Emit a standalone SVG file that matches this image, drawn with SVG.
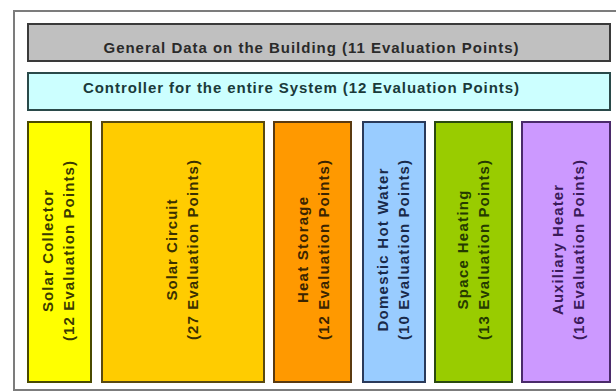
<svg xmlns="http://www.w3.org/2000/svg" width="616" height="392" viewBox="0 0 616 392">
  <style>
    .bar { stroke-width: 2; }
    .box { stroke-width: 2; }
    .lbl { font-family: "Liberation Sans", Arial, sans-serif; font-weight: bold; font-size: 15px; text-anchor: middle; }
  </style>
  <rect x="0" y="0" width="616" height="392" fill="#ffffff"/>
  <!-- outer frame, open to the right edge -->
  <rect x="14" y="11" width="620" height="379" fill="none" stroke="#7c7c7c" stroke-width="2"/>

  <g id="general-data">
    <rect class="bar" x="28" y="24" width="582" height="37" fill="#c0c0c0" stroke="#3a3a3a"/>
    <text class="lbl" x="311" y="53" fill="#2a2a2a" textLength="415" lengthAdjust="spacing">General Data on the Building (11 Evaluation Points)</text>
  </g>

  <g id="controller">
    <rect class="bar" x="28" y="73" width="582" height="37" fill="#ccffff" stroke="#2a4a4a"/>
    <text class="lbl" x="301" y="93" fill="#1a3a3a" textLength="436" lengthAdjust="spacing">Controller for the entire System (12 Evaluation Points)</text>
  </g>

  <g id="solar-collector">
    <rect class="box" x="28" y="122" width="63" height="260" fill="#ffff00" stroke="#4a4a00"/>
    <g transform="translate(58.5 251) rotate(-90)" fill="#3a3a00">
      <text class="lbl" x="0" y="-5.5" textLength="122" lengthAdjust="spacing">Solar Collector</text>
      <text class="lbl" x="0" y="15.5" textLength="180" lengthAdjust="spacing">(12 Evaluation Points)</text>
    </g>
  </g>

  <g id="solar-circuit">
    <rect class="box" x="102" y="122" width="162" height="260" fill="#ffcc00" stroke="#5a4a10"/>
    <g transform="translate(182.5 250) rotate(-90)" fill="#3a3000">
      <text class="lbl" x="0" y="-5.5" textLength="101" lengthAdjust="spacing">Solar Circuit</text>
      <text class="lbl" x="0" y="15.5" textLength="180" lengthAdjust="spacing">(27 Evaluation Points)</text>
    </g>
  </g>

  <g id="heat-storage">
    <rect class="box" x="274" y="122" width="77" height="260" fill="#ff9900" stroke="#5a3a10"/>
    <g transform="translate(313.5 250) rotate(-90)" fill="#3a2400">
      <text class="lbl" x="0" y="-5.5" textLength="106" lengthAdjust="spacing">Heat Storage</text>
      <text class="lbl" x="0" y="15.5" textLength="180" lengthAdjust="spacing">(12 Evaluation Points)</text>
    </g>
  </g>

  <g id="domestic-hot-water">
    <rect class="box" x="363" y="122" width="62" height="260" fill="#99ccff" stroke="#2a3a5a"/>
    <g transform="translate(393 250) rotate(-90)" fill="#1a2a4a">
      <text class="lbl" x="0" y="-5.5" textLength="163" lengthAdjust="spacing">Domestic Hot Water</text>
      <text class="lbl" x="0" y="15.5" textLength="180" lengthAdjust="spacing">(10 Evaluation Points)</text>
    </g>
  </g>

  <g id="space-heating">
    <rect class="box" x="435" y="122" width="77" height="260" fill="#99cc00" stroke="#2a4a10"/>
    <g transform="translate(473.5 250) rotate(-90)" fill="#253a00">
      <text class="lbl" x="0" y="-5.5" textLength="119" lengthAdjust="spacing">Space Heating</text>
      <text class="lbl" x="0" y="15.5" textLength="180" lengthAdjust="spacing">(13 Evaluation Points)</text>
    </g>
  </g>

  <g id="auxiliary-heater">
    <rect class="box" x="522" y="122" width="88" height="260" fill="#cc99ff" stroke="#4a2a6a"/>
    <g transform="translate(568 250) rotate(-90)" fill="#3a1a5a">
      <text class="lbl" x="0" y="-5.5" textLength="130" lengthAdjust="spacing">Auxiliary Heater</text>
      <text class="lbl" x="0" y="15.5" textLength="180" lengthAdjust="spacing">(16 Evaluation Points)</text>
    </g>
  </g>

  <g id="connectors"/>
</svg>
